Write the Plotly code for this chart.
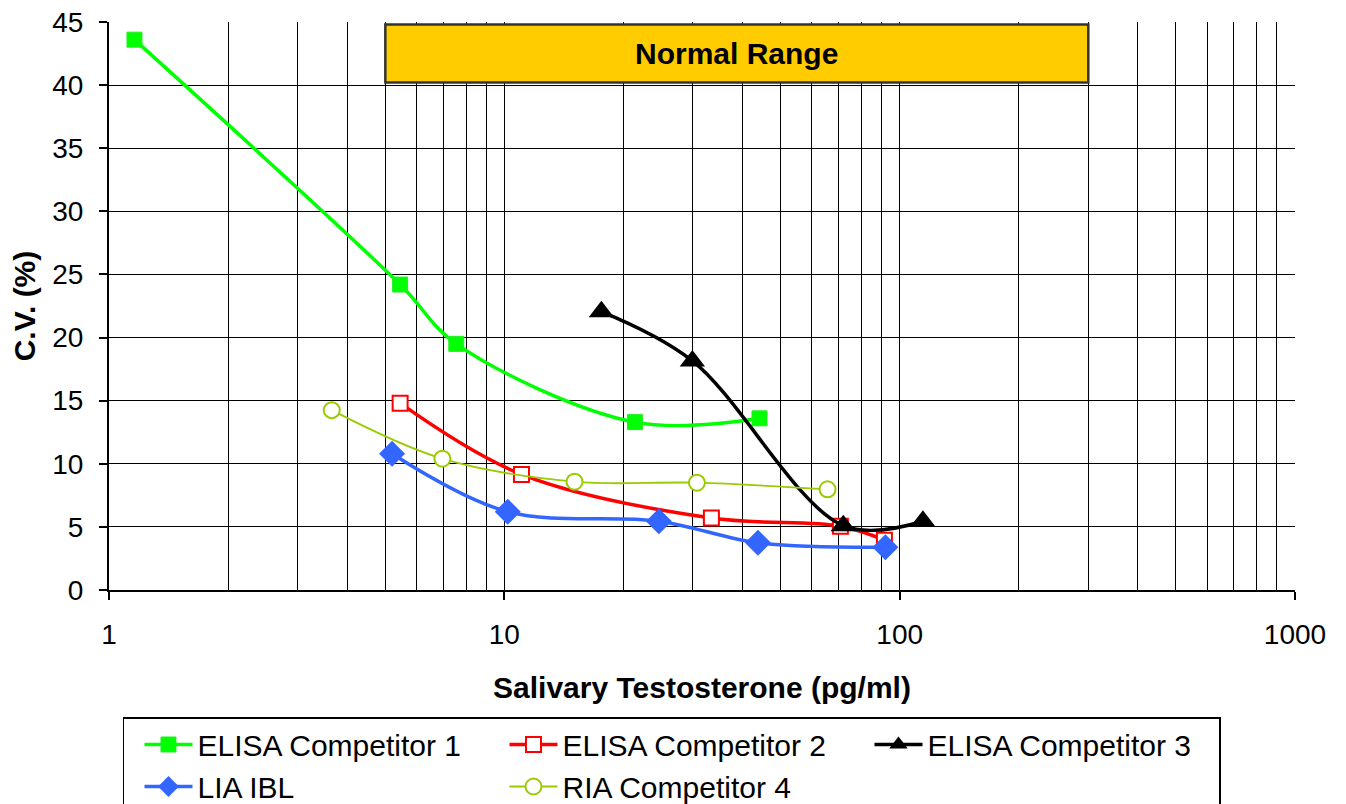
import math
import plotly.graph_objects as go

# ---- data ----
elisa1_x = [1.16, 5.45, 7.56, 21.4, 44.2]
elisa1_y = [43.6, 24.2, 19.5, 13.3, 13.6]

elisa2_x = [5.45, 11.05, 33.4, 70.8, 91.5]
elisa2_y = [14.8, 9.16, 5.7, 5.05, 3.95]

elisa3_x = [17.6, 29.9, 72.0, 114.5]
elisa3_y = [22.05, 18.15, 5.1, 5.45]

lia_x = [5.2, 10.2, 24.6, 43.8, 92.0]
lia_y = [10.8, 6.2, 5.45, 3.74, 3.38]

ria_x = [3.66, 6.97, 15.05, 30.7, 65.7]
ria_y = [14.25, 10.4, 8.58, 8.5, 7.98]

normal_range = (5, 300)
normal_label = "Normal Range"

x_major = [1, 10, 100, 1000]
x_major_text = ["1", "10", "100", "1000"]
x_minor = [m * d for d in (1, 10, 100) for m in range(2, 10)]
y_ticks = [0, 5, 10, 15, 20, 25, 30, 35, 40, 45]

FONT = "Arial, Liberation Sans, sans-serif"

fig = go.Figure()

fig.add_trace(go.Scatter(
    x=elisa1_x, y=elisa1_y, name="ELISA Competitor 1", mode="lines+markers",
    line=dict(color="#00FF00", width=3.5, shape="spline", smoothing=1),
    marker=dict(symbol="square", size=15, color="#00FF00", line=dict(color="#22EE22", width=1))))
fig.add_trace(go.Scatter(
    x=elisa2_x, y=elisa2_y, name="ELISA Competitor 2", mode="lines+markers",
    line=dict(color="#FF0000", width=3.5, shape="spline", smoothing=1),
    marker=dict(symbol="square", size=15, color="white", line=dict(color="#FF0000", width=2))))
fig.add_trace(go.Scatter(
    x=elisa3_x, y=elisa3_y, name="ELISA Competitor 3", mode="lines+markers",
    line=dict(color="black", width=3.5, shape="spline", smoothing=1),
    marker=dict(symbol="triangle-up", size=22, color="black")))
fig.add_trace(go.Scatter(
    x=lia_x, y=lia_y, name="LIA IBL", mode="lines+markers",
    line=dict(color="#3366FF", width=3.5, shape="spline", smoothing=1),
    marker=dict(symbol="diamond", size=20, color="#3366FF")))
fig.add_trace(go.Scatter(
    x=ria_x, y=ria_y, name="RIA Competitor 4", mode="lines+markers",
    line=dict(color="#99CC00", width=1.8, shape="spline", smoothing=1),
    marker=dict(symbol="circle", size=16, color="white", line=dict(color="#99CC00", width=2))))

# Normal range box
fig.add_shape(type="rect", xref="x", yref="y",
              x0=normal_range[0], x1=normal_range[1], y0=40.2, y1=44.8,
              fillcolor="#FFCC00", line=dict(color="#333333", width=2.5), layer="above")
fig.add_annotation(x=math.log10(math.sqrt(normal_range[0] * normal_range[1])), y=42.5,
                   xref="x", yref="y", text="<b>" + normal_label + "</b>", showarrow=False,
                   font=dict(family=FONT, size=30, color="black"))

# the page adds an 8px body margin, so margins are reduced on left/top
fig.update_layout(
    width=1346, height=804,
    paper_bgcolor="white", plot_bgcolor="white",
    margin=dict(l=101, r=59, t=14, b=222, autoexpand=False),
    font=dict(family=FONT, size=28, color="black"),
    showlegend=True,
    legend=dict(
        orientation="h", x=0.0118, y=-0.2236, xanchor="left", yanchor="top",
        bgcolor="white", bordercolor="black", borderwidth=1.5,
        font=dict(family=FONT, size=30, color="black"),
        entrywidth=287, entrywidthmode="pixels", itemwidth=48,
        indentation=15, traceorder="normal"),
)

fig.update_xaxes(
    type="log", range=[0, 3],
    tickmode="array", tickvals=x_major, ticktext=x_major_text,
    ticks="outside", ticklen=8, tickwidth=1.5, tickcolor="black",
    showline=True, linecolor="black", linewidth=2,
    showgrid=True, gridcolor="black", gridwidth=1,
    minor=dict(tickmode="array", tickvals=x_minor, showgrid=True,
               gridcolor="black", gridwidth=1, ticks=""),
    tickfont=dict(family=FONT, size=28),
    ticklabelstandoff=10, ticklabeloverflow="allow",
    title=dict(text="<b>Salivary Testosterone (pg/ml)</b>",
               font=dict(family=FONT, size=30), standoff=28),
    zeroline=False,
)
fig.update_yaxes(
    range=[0, 45.0001], tickmode="array", tickvals=y_ticks,
    ticks="outside", ticklen=8, tickwidth=1.5, tickcolor="black",
    showline=True, linecolor="black", linewidth=2,
    showgrid=True, gridcolor="black", gridwidth=1,
    tickfont=dict(family=FONT, size=28),
    ticklabelstandoff=10, ticklabeloverflow="allow",
    title=dict(text="<b>C.V. (%)</b>", font=dict(family=FONT, size=30), standoff=8),
    zeroline=False,
)

fig.write_html("out.html")
